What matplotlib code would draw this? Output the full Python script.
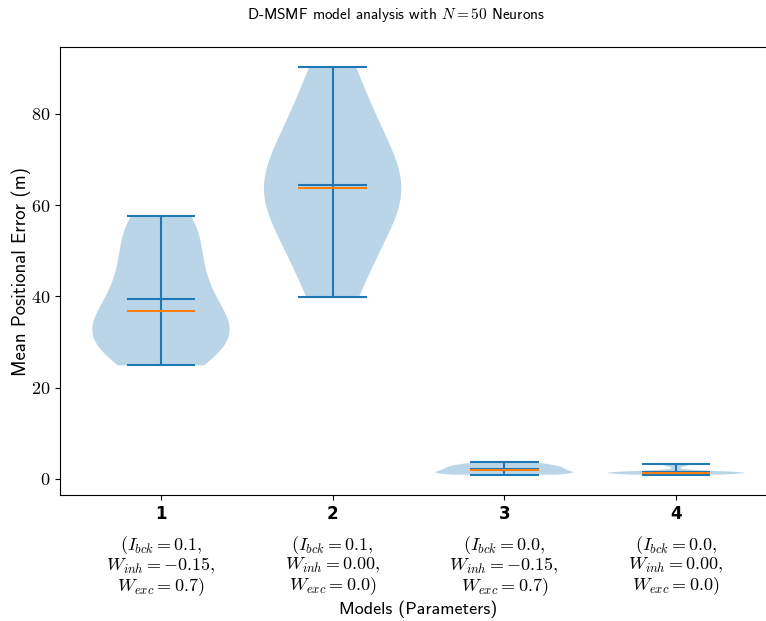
import numpy as np
import matplotlib
matplotlib.use("Agg")
import matplotlib.pyplot as plt
from matplotlib.ticker import FuncFormatter

plt.rcParams['font.family'] = ['cmss10', 'DejaVu Sans']
plt.rcParams['mathtext.fontset'] = 'cm'
plt.rcParams['axes.unicode_minus'] = False

# mean positional error (m) per run, one list per model
errors_model1 = [24.9, 26.0, 27.5, 29.0, 30.2, 31.0, 32.0, 33.0, 34.2, 35.5, 36.8,
                 38.5, 41.0, 43.5, 45.5, 47.0, 49.5, 53.25, 55.5, 57.0, 57.6]
errors_model2 = [39.9, 47.0, 54.0, 58.5, 61.5, 63.85, 66.5, 70.0, 76.0, 81.0, 90.2]
errors_model3 = [0.95, 1.05, 1.1, 1.15, 1.2, 1.3, 1.45, 1.6, 1.75, 1.9, 2.04,
                 2.2, 2.35, 2.5, 2.65, 2.8, 2.95, 3.1, 3.3, 3.5, 3.8]
errors_model4 = [0.95, 1.05, 1.1, 1.15, 1.2, 1.25, 1.28, 1.3, 1.33, 1.36, 1.38,
                 1.4, 1.42, 1.45, 1.5, 1.55, 1.6, 1.7, 2.9, 3.1, 3.2]

model_ids = [1, 2, 3, 4]
i_bck = ["0.1", "0.1", "0.0", "0.0"]
w_inh = ["-0.15", "0.00", "-0.15", "0.00"]
w_exc = ["0.7", "0.0", "0.7", "0.0"]
n_neurons = 50

fig = plt.figure(figsize=(7.66, 6.21), dpi=100)
ax = fig.add_axes([0.0779, 0.2029, 0.9368, 0.7214])

parts = ax.violinplot([errors_model1, errors_model2, errors_model3, errors_model4],
                      positions=model_ids, widths=0.8,
                      showmeans=True, showmedians=True)
parts['cmedians'].set_color('C1')

ax.yaxis.set_major_formatter(FuncFormatter(lambda v, pos: f"${v:g}$"))
ax.tick_params(axis='y', labelsize=13)

# bold model numbers as major ticks, parameter sets as minor ticks below them
ax.set_xticks(model_ids)
ax.set_xticklabels([str(m) for m in model_ids], fontfamily='DejaVu Sans',
                   fontweight='bold', fontsize=12)
param_labels = [f"$(I_{{bck}} = {a},$\n$W_{{inh}} = {b},$\n$W_{{exc}} = {c})$"
                for a, b, c in zip(i_bck, w_inh, w_exc)]
ax.xaxis.remove_overlapping_locs = False
ax.set_xticks(model_ids, minor=True)
ax.set_xticklabels(param_labels, minor=True, fontsize=13, linespacing=1.0)
ax.tick_params(axis='x', which='minor', length=0, pad=28)

ax.set_ylabel("Mean Positional Error (m)", fontsize=13.5, labelpad=0)
ax.set_xlabel("Models (Parameters)", fontsize=13, labelpad=2)

fig.text(396 / 766, 1 - 15 / 621, f"D-MSMF model analysis with $N = {n_neurons}$ Neurons",
         ha='center', va='center', fontsize=11)

fig.savefig("out.png", dpi=100)
